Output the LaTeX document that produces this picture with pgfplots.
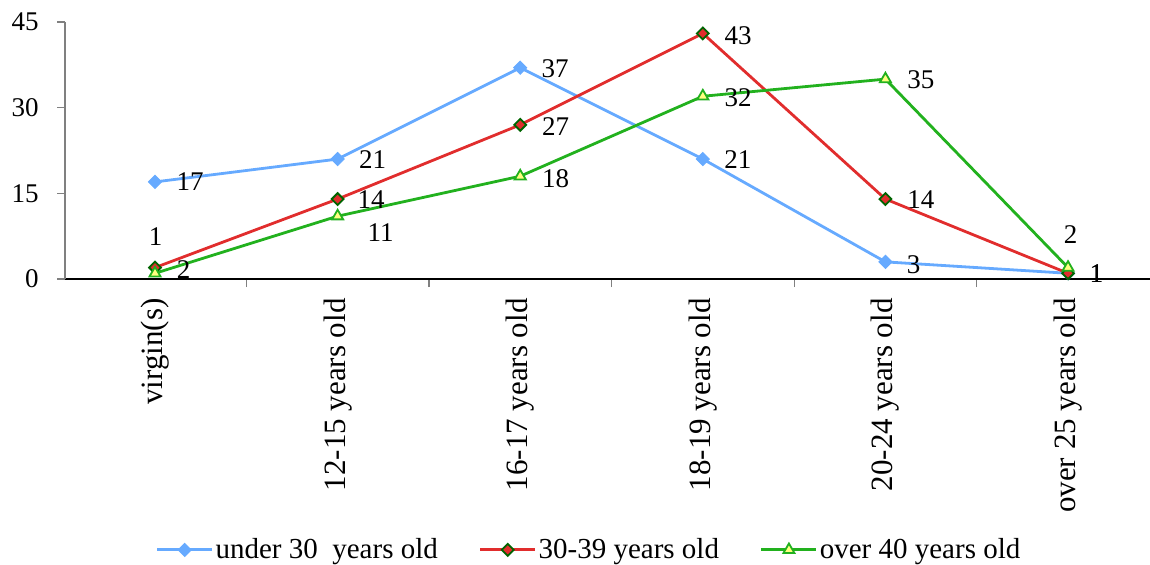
\documentclass[border=0pt]{standalone}
\usepackage{pgfplots}
\usepackage{pgfplotstable}
\pgfplotsset{compat=1.18}
\usepackage{fontspec}
\setmainfont{Liberation Serif}

\definecolor{cblue}{RGB}{102,170,255}
\definecolor{cred}{RGB}{225,45,45}
\definecolor{cgreen}{RGB}{34,177,30}
\definecolor{cdkgreen}{RGB}{0,100,0}
\definecolor{cyellow}{RGB}{255,255,128}

% x = category index, y = count, dx/dy = label offset (pt)
\pgfplotstableread{
x y dx dy
0 17 10.5 0
1 21 10.5 0
2 37 10.5 -0.5
3 21 10.5 0
4 3 10.5 -1.5
5 1 10.5 0
}\tabunder
\pgfplotstableread{
x y dx dy
0 2 10.5 -1
1 14 9.5 -0.5
2 27 10.5 -1
3 43 10.5 -1
4 14 10.5 -0.5
5 1 10.5 0
}\tabmid
\pgfplotstableread{
x y dx dy
0 1 -3.5 18.25
1 11 14.5 -8
2 18 10.5 -1
3 32 10.5 -0.5
4 35 10.5 -0.5
5 2 -2.5 16.3
}\tabover

\pgfplotsset{
  vlabels/.style={
    visualization depends on={\thisrow{dx} \as \dx},
    visualization depends on={\thisrow{dy} \as \dy},
    nodes near coords,
    every node near coord/.append style={anchor=west, inner sep=0pt,
      xshift=\dx pt, yshift=\dy pt, text=black, font=\fontsize{13.5}{16}\selectfont},
  },
}

\begin{document}
\begin{tikzpicture}[font=\fontsize{15}{18}\selectfont]
\useasboundingbox (-32.5pt,-142.5pt) rectangle (542.5pt,139.5pt);
\begin{axis}[
  scale only axis, width=542.5pt, height=128.5pt,
  xmin=-0.493, xmax=5.449, ymin=0, ymax=45,
  axis x line*=bottom, axis y line*=left,
  x axis line style={black, line width=0.6pt},
  y axis line style={gray, line width=0.6pt},
  tick align=outside, major tick length=4pt,
  tick style={gray, line width=0.6pt},
  xtick={0.5,1.5,2.5,3.5,4.5}, xticklabels={},
  extra x ticks={0,1,2,3,4,5},
  extra x tick labels={virgin(s),12-15 years old,16-17 years old,18-19 years old,20-24 years old,over 25 years old},
  extra x tick style={major tick length=0pt},
  xticklabel style={yshift=-9.5pt, rotate=90, anchor=east, inner sep=0pt,
    font=\fontsize{15.5}{18}\selectfont},
  ytick={0,15,30,45}, yticklabels={0,15,30,45},
  yticklabel style={anchor=east, inner sep=0pt, xshift=-9pt,
    font=\fontsize{13.5}{16}\selectfont},
  /pgf/number format/assume math mode=true,
  legend columns=3,
  legend style={draw=none, fill=none, at={(0.483,-1.054)}, anchor=center,
    /tikz/every even column/.append style={column sep=19.5pt},
    nodes={inner sep=1pt}, font=\fontsize{14.5}{17}\selectfont},
  legend image code/.code={\draw[mark repeat=2,mark phase=2] plot coordinates {(0pt,0pt)(13.75pt,0pt)(27.5pt,0pt)};},
  every axis plot/.append style={line width=1.4pt},
]
\addplot[vlabels, color=cblue, mark=square*, mark size=2.3pt,
  mark options={rotate=45, fill=cblue, draw=cblue, line width=0.5pt}]
  table[x=x, y=y] {\tabunder};
\addlegendentry{under 30~ years old}
\addplot[vlabels, color=cred, mark=square*, mark size=2.1pt,
  mark options={rotate=45, fill=cred, draw=cdkgreen, line width=0.9pt}]
  table[x=x, y=y] {\tabmid};
\addlegendentry{30-39 years old}
\addplot[vlabels, color=cgreen, mark=triangle*, mark size=3.2pt,
  mark options={fill=cyellow, draw=cgreen, line width=0.9pt}]
  table[x=x, y=y] {\tabover};
\addlegendentry{over 40 years old}
\end{axis}
\end{tikzpicture}
\end{document}
